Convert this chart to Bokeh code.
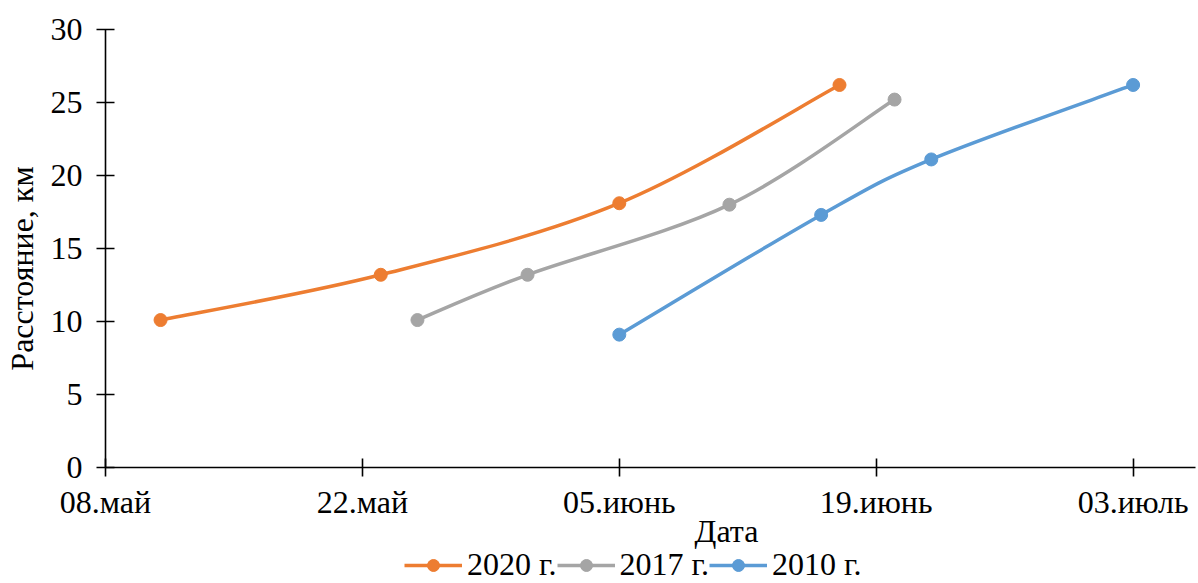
import datetime as dt
from bokeh.plotting import figure
from bokeh.layouts import column
from bokeh.models import Range1d, FixedTicker, Legend, LegendItem
from bokeh.embed import file_html
from bokeh.resources import INLINE

# ---- data ----
dates_2020 = ["05-11", "05-23", "06-05", "06-17"]
dist_2020 = [10.1, 13.2, 18.1, 26.2]
dates_2017 = ["05-25", "05-31", "06-11", "06-20"]
dist_2017 = [10.1, 13.2, 18.0, 25.2]
dates_2010 = ["06-05", "06-16", "06-22", "07-03"]
dist_2010 = [9.1, 17.3, 21.1, 26.2]
series_names = ["2020 г.", "2017 г.", "2010 г."]
tick_dates = ["05-08", "05-22", "06-05", "06-19", "07-03"]
tick_labels = ["08.май", "22.май", "05.июнь", "19.июнь", "03.июль"]
y_ticks = [0, 5, 10, 15, 20, 25, 30]

colors = ["#ED7D31", "#A5A5A5", "#5B9BD5"]
FONT = "Liberation Serif"
FS = "32px"

origin = dt.date(2020, 5, 8)


def day(s):
    m, d = s.split("-")
    return (dt.date(2020, int(m), int(d)) - origin).days


p = figure(width=1198, height=551, output_backend="svg", toolbar_location=None,
           x_range=Range1d(0, 59.4), y_range=Range1d(0, 30),
           min_border_left=105, min_border_top=29, min_border_right=3,
           min_border_bottom=84)
p.outline_line_color = None
p.xgrid.visible = False
p.ygrid.visible = False
p.background_fill_color = "white"

xt = [day(s) for s in tick_dates]
p.xaxis.ticker = FixedTicker(ticks=xt)
p.xaxis.major_label_overrides = {t: l for t, l in zip(xt, tick_labels)}
p.yaxis.ticker = FixedTicker(ticks=y_ticks)
for ax in (p.xaxis, p.yaxis):
    ax.axis_line_color = "black"
    ax.axis_line_width = 1.6
    ax.major_tick_line_color = "black"
    ax.major_tick_line_width = 1.6
    ax.major_tick_in = 9
    ax.major_tick_out = 9
    ax.minor_tick_line_color = None
    ax.major_label_text_font = FONT
    ax.major_label_text_font_size = FS
    ax.major_label_text_color = "black"
    ax.axis_label_text_font = FONT
    ax.axis_label_text_font_size = FS
    ax.axis_label_text_font_style = "normal"
    ax.axis_label_text_color = "black"
p.xaxis.axis_label = "\u00a0" * 19 + "Дата"
p.yaxis.axis_label = "Расстояние, км" + "\u00a0" * 5
p.xaxis.major_label_standoff = 7
p.yaxis.major_label_standoff = 14
p.xaxis.axis_label_standoff = -10
p.yaxis.axis_label_standoff = 8

# legend strip below the chart (its own renderers sit outside its view)
q = figure(width=1198, height=32, output_backend="svg", toolbar_location=None,
           x_range=Range1d(-2, -1), y_range=Range1d(-2, -1),
           x_axis_location=None, y_axis_location=None,
           min_border_left=0, min_border_right=0, min_border_top=0,
           min_border_bottom=0)
q.xgrid.visible = False
q.ygrid.visible = False
q.outline_line_color = None

items = []
for name, ds, ys, c in zip(series_names, [dates_2020, dates_2017, dates_2010],
                           [dist_2020, dist_2017, dist_2010], colors):
    xs = [day(s) for s in ds]
    n = len(xs)
    X = [xs[0]] + xs + [xs[-1]]
    Y = [ys[0]] + ys + [ys[-1]]
    x0, y0, x1, y1, cx0, cy0, cx1, cy1 = [], [], [], [], [], [], [], []
    for i in range(n - 1):
        j = i + 1
        x0.append(X[j]); y0.append(Y[j])
        x1.append(X[j + 1]); y1.append(Y[j + 1])
        cx0.append(X[j] + (X[j + 1] - X[j - 1]) / 6)
        cy0.append(Y[j] + (Y[j + 1] - Y[j - 1]) / 6)
        cx1.append(X[j + 1] - (X[j + 2] - X[j]) / 6)
        cy1.append(Y[j + 1] - (Y[j + 2] - Y[j]) / 6)
    p.bezier(x0=x0, y0=y0, x1=x1, y1=y1, cx0=cx0, cy0=cy0, cx1=cx1, cy1=cy1,
             line_color=c, line_width=3.5)
    p.scatter(xs, ys, size=13, fill_color=c, line_color=c, marker="circle")
    k_line = q.line(xs, ys, line_color=c, line_width=3.5)
    k_pts = q.scatter(xs, ys, size=13, fill_color=c, line_color=c, marker="circle")
    items.append(LegendItem(label=name, renderers=[k_line, k_pts]))

legend = Legend(items=items, orientation="horizontal", location=(299, 0),
                label_text_font=FONT, label_text_font_size=FS,
                label_text_color="black", glyph_width=58, glyph_height=30,
                label_standoff=5, spacing=0, padding=0, margin=0,
                border_line_color=None, background_fill_alpha=0)
q.add_layout(legend, "center")

layout = column(p, q, spacing=0)
open("out.html", "w").write(file_html(layout, INLINE))
